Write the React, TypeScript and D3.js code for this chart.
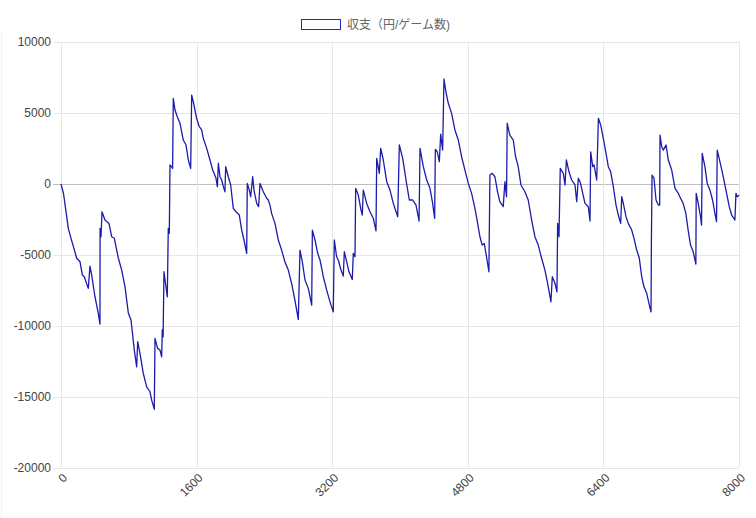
import React from "react";
import * as d3 from "d3";

const games: number[] = [
  0, 30, 60, 86, 118, 150, 185, 224, 252, 275, 300, 322, 342, 362, 401, 440, 460, 461, 472, 484,
  519, 566, 598, 629, 677, 716, 755, 795, 826, 865, 893, 905, 932, 971, 1011, 1050, 1070, 1101, 1109, 1140,
  1168, 1188, 1195, 1199, 1205, 1215, 1254, 1266, 1278, 1286, 1317, 1325, 1345, 1372, 1404, 1443, 1475, 1502, 1530, 1542,
  1569, 1600, 1632, 1660, 1679, 1719, 1758, 1790, 1829, 1845, 1857, 1876, 1896, 1915, 1935, 1943, 1974, 2002, 2033, 2065,
  2104, 2132, 2159, 2191, 2198, 2222, 2238, 2262, 2277, 2309, 2332, 2348, 2387, 2407, 2427, 2446, 2466, 2485, 2525, 2564,
  2603, 2642, 2682, 2721, 2760, 2800, 2820, 2847, 2879, 2918, 2958, 2966, 2997, 3029, 3056, 3095, 3135, 3174, 3213, 3225,
  3252, 3272, 3304, 3331, 3343, 3371, 3398, 3437, 3449, 3469, 3477, 3508, 3540, 3555, 3567, 3607, 3646, 3685, 3717, 3725,
  3756, 3772, 3803, 3843, 3882, 3921, 3973, 3992, 4032, 4071, 4110, 4150, 4189, 4225, 4236, 4275, 4315, 4354, 4385, 4409,
  4417, 4440, 4464, 4480, 4503, 4519, 4542, 4570, 4609, 4648, 4688, 4727, 4766, 4806, 4845, 4885, 4916, 4943, 4970, 4994,
  5021, 5049, 5061, 5088, 5120, 5151, 5178, 5218, 5238, 5257, 5265, 5296, 5336, 5364, 5395, 5427, 5474, 5513, 5553, 5592,
  5631, 5671, 5710, 5742, 5781, 5797, 5829, 5852, 5860, 5876, 5891, 5927, 5947, 5963, 5994, 6026, 6065, 6085, 6104, 6124,
  6144, 6156, 6183, 6222, 6242, 6250, 6274, 6289, 6301, 6321, 6341, 6368, 6399, 6431, 6458, 6486, 6517, 6549, 6576, 6604,
  6616, 6635, 6667, 6694, 6734, 6761, 6793, 6824, 6852, 6879, 6911, 6942, 6962, 6966, 6974, 6997, 7021, 7048, 7064, 7068,
  7088, 7107, 7139, 7166, 7206, 7245, 7284, 7302, 7341, 7373, 7400, 7428, 7460, 7491, 7495, 7519, 7546, 7558, 7566, 7598,
  7625, 7657, 7688, 7716, 7735, 7743, 7775, 7806, 7846, 7885, 7913, 7940, 7952, 7964, 7980, 8000,
];

const balance: number[] = [
  0, -700, -2000, -3140, -3840, -4500, -5250, -5490, -6430, -6550, -7000, -7370, -5800, -6430, -7960, -9130, -9890, -3140, -3730, -1970,
  -2550, -2790, -3730, -3840, -5250, -6080, -7250, -9130, -9600, -11720, -12900, -11130, -11960, -13370, -14310, -14660, -15250, -15900, -10900, -11600,
  -11720, -12190, -10310, -10270, -10790, -6200, -7960, -3140, -3490, 1330, 1090, 6030, 5200, 4730, 4270, 3090, 2740, 1680, 1090, 6260,
  5560, 4620, 4030, 3800, 3210, 2500, 1680, 970, 390, -200, 1450, 500, 270, -200, -560, 1210, 500, -80, -1730, -1970,
  -2200, -3260, -3960, -4900, 30, -440, -910, 500, -440, -1380, -1610, 30, -560, -790, -1020, -1140, -1500, -2080, -2790, -3960,
  -4670, -5490, -6080, -7020, -8200, -9560, -4670, -5490, -6780, -7370, -8550, -3260, -3960, -4900, -5370, -6550, -7490, -8320, -9020, -3960,
  -5140, -5370, -6080, -6500, -4790, -5490, -6200, -6740, -4900, -5140, -320, -790, -1850, -2200, -440, -1380, -1970, -2430, -3310, 1800,
  740, 2500, 1680, 150, -440, -1380, -2320, 2740, 1800, 270, -1140, -1140, -1500, -2620, 2500, 1210, 270, -320, -1380, -2430,
  2430, 2260, 1560, 3510, 2380, 7390, 6490, 5680, 4970, 3800, 3090, 1910, 970, 30, -670, -1750, -2790, -3730, -4320, -4200,
  -5140, -6200, 620, 740, 500, -560, -1260, -1610, 150, -910, 4270, 3440, 3090, 1910, 1210, -80, -560, -1140, -2550, -3730,
  -4320, -5250, -6080, -7020, -8320, -6550, -7020, -7610, -2790, -3730, 1090, 740, -80, 1680, 850, 270, -80, -1260, 390, 150,
  -320, -670, -1380, -1610, -2620, 2260, 1210, 1330, 970, 270, 4620, 4150, 3210, 2150, 1210, 850, -200, -1500, -2200, -2790,
  -910, -1380, -2320, -2790, -3260, -3840, -4670, -5250, -6550, -7260, -7720, -8550, -9020, -4320, 620, 390, -1140, -1500, -1500, 3440,
  2620, 2380, 2740, 1680, 970, -320, -670, -910, -1380, -2080, -3260, -4320, -4790, -5660, -670, -1380, -2320, -2910, 2150, 1210,
  30, -440, -1140, -2080, -2670, 2380, 1560, 740, -440, -1610, -2200, -2430, -2550, -670, -910, -800,
];

const xTicks: number[] = [0, 1600, 3200, 4800, 6400, 8000];
const yTicks: number[] = [10000, 5000, 0, -5000, -10000, -15000, -20000];
const legendLabel = "収支（円/ゲーム数)";

const W = 756;
const H = 518;
const left = 61;
const right = 739;
const top = 42;
const bottom = 467.5;
const FONT = "'Liberation Sans', Arial, 'Noto Sans CJK JP', sans-serif";

export default function App() {
  const x = d3.scaleLinear().domain([0, 8000]).range([left, right]);
  const y = d3.scaleLinear().domain([-20000, 10000]).range([bottom, top]);
  const pts: [number, number][] = games.map((g, i) => [g, balance[i]]);
  const line = d3
    .line<[number, number]>()
    .x((d) => x(d[0]))
    .y((d) => y(d[1]));

  return (
    <svg
      width={W}
      height={H}
      style={{ position: "absolute", left: 0, top: 0, background: "#fff" }}
      fontFamily={FONT}
    >
      <rect x={0} y={0} width={W} height={H} fill="#fff" />
      <line x1={1.5} x2={1.5} y1={30} y2={H} stroke="#f2f2f2" />
      {/* legend */}
      <rect x={301.5} y={19.5} width={39} height={10} fill="#fff" stroke="#2424c0" strokeWidth={1} />
      <text x={347} y={28.5} fontSize={12} fill="#666">
        {legendLabel}
      </text>
      {/* horizontal grid */}
      {yTicks.map((t) => (
        <g key={"y" + t}>
          <line
            x1={left - 8}
            x2={right}
            y1={Math.round(y(t)) + 0.5}
            y2={Math.round(y(t)) + 0.5}
            stroke={t === 0 ? "#bfbfbf" : "#e6e6e6"}
            strokeWidth={1}
          />
          <text x={51} y={y(t)} dy="0.35em" textAnchor="end" fontSize={12} fill="#444">
            {t}
          </text>
        </g>
      ))}
      {/* vertical grid */}
      {xTicks.map((t) => (
        <g key={"x" + t}>
          <line
            x1={Math.round(x(t)) + 0.5}
            x2={Math.round(x(t)) + 0.5}
            y1={top}
            y2={bottom}
            stroke="#e6e6e6"
            strokeWidth={1}
          />
          <text
            transform={`translate(${x(t) + 4},${bottom + 8}) rotate(-45)`}
            dy="0.35em"
            textAnchor="end"
            fontSize={12}
            fill="#444"
          >
            {t}
          </text>
        </g>
      ))}
      <path d={line(pts) || ""} fill="none" stroke="#1c1caa" strokeWidth={1.3} strokeLinejoin="round" />
    </svg>
  );
}
